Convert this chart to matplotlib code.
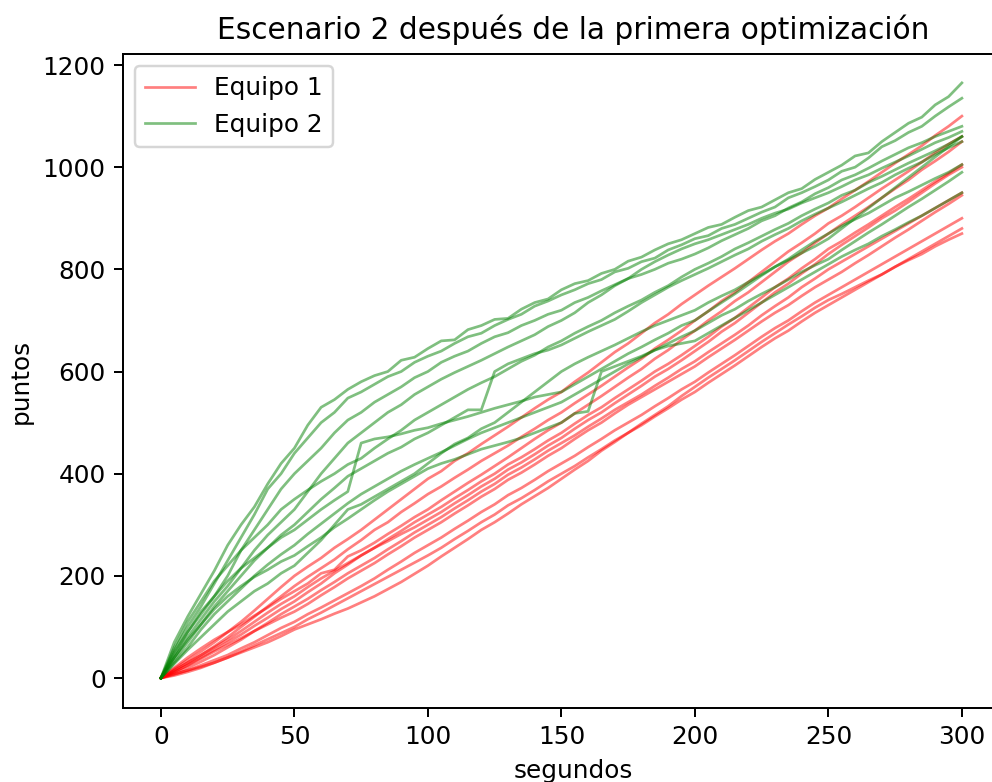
import numpy as np
import matplotlib
matplotlib.use("Agg")
import matplotlib.pyplot as plt

# sample times (seconds), every 5 s
segundos = list(range(0, 301, 5))

# Equipo 1 (red) runs
equipo1 = [
    [0, 18, 35, 52, 70, 90, 110, 132, 155, 178, 200, 218, 235, 255, 272, 290, 310, 330, 350, 370, 390, 405, 425, 440, 458, 475, 492, 510, 528, 545, 560, 580, 598, 618, 638, 655, 675, 695, 712, 732, 750, 768, 785, 802, 820, 838, 855, 870, 888, 905, 920, 938, 955, 972, 990, 1008, 1025, 1042, 1062, 1080, 1100],
    [0, 15, 30, 45, 62, 80, 100, 120, 140, 160, 180, 198, 215, 232, 252, 270, 290, 305, 325, 342, 360, 375, 392, 408, 425, 440, 455, 472, 488, 505, 520, 538, 555, 572, 590, 608, 625, 645, 662, 680, 700, 718, 738, 755, 775, 795, 815, 835, 852, 870, 890, 905, 922, 940, 958, 975, 992, 1010, 1028, 1045, 1060],
    [0, 20, 40, 58, 75, 90, 105, 122, 138, 155, 170, 185, 205, 212, 238, 250, 265, 282, 298, 315, 330, 348, 365, 382, 398, 415, 432, 450, 468, 485, 500, 518, 535, 552, 570, 588, 605, 625, 642, 662, 680, 700, 718, 738, 755, 775, 795, 815, 832, 852, 870, 888, 905, 922, 940, 958, 975, 995, 1012, 1030, 1050],
    [0, 12, 25, 40, 55, 70, 85, 102, 118, 135, 150, 168, 185, 205, 222, 240, 255, 272, 288, 305, 320, 335, 352, 368, 385, 400, 418, 432, 448, 465, 480, 498, 515, 530, 548, 565, 582, 600, 615, 632, 650, 668, 688, 705, 725, 745, 765, 782, 802, 820, 840, 855, 872, 888, 905, 922, 938, 955, 972, 988, 1005],
    [0, 15, 30, 45, 60, 75, 92, 110, 128, 145, 160, 178, 195, 210, 225, 240, 255, 268, 282, 295, 310, 325, 342, 358, 375, 390, 408, 422, 438, 455, 470, 488, 505, 520, 538, 555, 572, 590, 605, 622, 640, 658, 678, 695, 715, 735, 755, 772, 792, 810, 830, 848, 865, 882, 900, 915, 932, 950, 968, 985, 1000],
    [0, 10, 20, 32, 45, 60, 75, 92, 108, 125, 140, 155, 172, 188, 205, 220, 235, 252, 268, 285, 300, 315, 332, 348, 365, 380, 398, 412, 428, 445, 460, 475, 492, 508, 525, 540, 555, 572, 588, 605, 620, 638, 655, 672, 690, 710, 728, 745, 765, 782, 800, 815, 830, 845, 860, 875, 890, 905, 920, 935, 950],
    [0, 12, 25, 38, 52, 65, 78, 92, 105, 118, 130, 145, 162, 178, 195, 210, 225, 242, 258, 275, 290, 305, 322, 338, 355, 370, 388, 402, 418, 435, 450, 468, 485, 500, 518, 535, 550, 565, 580, 595, 610, 628, 645, 662, 680, 698, 715, 730, 748, 765, 780, 795, 812, 828, 845, 862, 878, 895, 912, 928, 945],
    [0, 8, 15, 25, 35, 45, 58, 70, 84, 98, 110, 125, 138, 152, 166, 180, 195, 212, 228, 245, 260, 275, 292, 308, 325, 340, 358, 372, 388, 405, 420, 435, 452, 468, 485, 500, 515, 532, 548, 565, 580, 598, 615, 632, 650, 668, 685, 700, 718, 735, 750, 765, 780, 795, 810, 825, 840, 855, 870, 885, 900],
    [0, 7, 15, 22, 30, 40, 52, 64, 76, 88, 100, 115, 128, 142, 156, 170, 184, 198, 212, 226, 240, 255, 272, 288, 305, 320, 338, 352, 368, 385, 400, 415, 432, 448, 465, 480, 495, 512, 528, 545, 560, 578, 595, 612, 630, 648, 665, 680, 698, 715, 730, 745, 760, 775, 790, 805, 820, 835, 850, 865, 880],
    [0, 5, 12, 20, 30, 40, 50, 60, 70, 82, 95, 105, 115, 126, 136, 148, 160, 174, 188, 204, 220, 238, 255, 272, 290, 305, 322, 340, 356, 372, 390, 408, 425, 445, 462, 480, 498, 515, 532, 552, 570, 588, 605, 622, 640, 658, 675, 692, 708, 725, 740, 752, 765, 778, 790, 805, 818, 830, 845, 858, 870],
]

# Equipo 2 (green) runs
equipo2 = [
    [0, 70, 120, 165, 210, 260, 300, 335, 380, 420, 450, 495, 530, 545, 565, 580, 592, 600, 622, 628, 645, 660, 662, 682, 690, 702, 704, 722, 735, 742, 760, 772, 778, 792, 800, 816, 824, 838, 850, 858, 870, 882, 888, 902, 915, 922, 936, 950, 958, 976, 990, 1004, 1022, 1028, 1050, 1068, 1086, 1098, 1122, 1138, 1165],
    [0, 55, 100, 140, 185, 230, 275, 320, 370, 400, 440, 470, 500, 520, 548, 560, 575, 590, 600, 618, 630, 640, 655, 668, 675, 690, 702, 712, 728, 738, 750, 760, 772, 780, 795, 802, 815, 822, 838, 848, 860, 866, 880, 888, 900, 912, 922, 940, 950, 962, 975, 992, 1000, 1018, 1040, 1052, 1068, 1080, 1100, 1118, 1135],
    [0, 45, 90, 125, 160, 200, 250, 290, 330, 370, 400, 425, 450, 480, 505, 520, 540, 555, 570, 588, 600, 618, 630, 640, 655, 668, 676, 690, 700, 712, 720, 735, 745, 758, 770, 782, 790, 800, 812, 820, 830, 842, 856, 868, 880, 895, 905, 920, 932, 948, 960, 975, 985, 998, 1012, 1025, 1038, 1048, 1060, 1070, 1080],
    [0, 40, 80, 115, 150, 180, 215, 250, 280, 305, 330, 365, 400, 430, 460, 480, 500, 520, 535, 555, 570, 585, 598, 610, 622, 635, 648, 660, 672, 688, 700, 715, 735, 750, 768, 782, 800, 815, 828, 840, 850, 858, 868, 878, 888, 900, 910, 918, 930, 940, 950, 962, 975, 985, 998, 1010, 1022, 1035, 1048, 1058, 1070],
    [0, 60, 110, 150, 190, 220, 250, 275, 300, 330, 350, 368, 385, 400, 418, 430, 450, 468, 485, 505, 520, 535, 550, 565, 578, 590, 605, 620, 632, 648, 660, 675, 688, 700, 715, 728, 740, 755, 768, 785, 800, 812, 825, 840, 852, 865, 878, 890, 905, 918, 930, 945, 955, 970, 982, 995, 1008, 1020, 1032, 1045, 1060],
    [0, 35, 70, 105, 140, 170, 200, 230, 255, 280, 300, 325, 350, 372, 395, 410, 425, 440, 452, 468, 480, 495, 510, 525, 525, 600, 615, 625, 635, 642, 652, 665, 678, 690, 702, 718, 735, 750, 765, 778, 790, 802, 815, 828, 840, 855, 868, 880, 895, 908, 920, 932, 945, 958, 970, 985, 998, 1010, 1025, 1038, 1050],
    [0, 50, 90, 130, 160, 190, 215, 235, 255, 275, 290, 310, 330, 348, 365, 460, 468, 472, 478, 485, 490, 498, 505, 512, 520, 528, 535, 542, 550, 555, 560, 575, 590, 605, 620, 635, 648, 662, 675, 690, 700, 718, 735, 752, 770, 788, 805, 820, 838, 855, 870, 885, 898, 910, 925, 940, 952, 965, 978, 990, 1005],
    [0, 30, 60, 95, 125, 150, 175, 200, 222, 242, 260, 282, 302, 322, 342, 360, 375, 390, 405, 418, 430, 442, 455, 468, 480, 490, 500, 510, 520, 530, 540, 555, 570, 585, 600, 615, 628, 642, 655, 668, 680, 695, 710, 722, 738, 752, 765, 780, 795, 808, 820, 838, 855, 872, 888, 905, 922, 938, 955, 972, 990],
    [0, 40, 75, 105, 135, 160, 180, 198, 212, 228, 240, 258, 275, 295, 312, 330, 348, 365, 380, 395, 410, 420, 428, 438, 448, 455, 462, 470, 480, 490, 500, 518, 522, 600, 610, 620, 630, 642, 650, 655, 660, 675, 690, 705, 720, 735, 750, 765, 780, 795, 810, 825, 838, 850, 865, 878, 892, 905, 920, 935, 950],
    [0, 28, 55, 80, 105, 130, 150, 170, 185, 205, 220, 245, 270, 300, 330, 340, 355, 370, 385, 400, 420, 440, 458, 470, 488, 500, 520, 540, 560, 580, 600, 615, 628, 640, 652, 665, 678, 690, 700, 710, 720, 735, 748, 760, 775, 790, 805, 818, 832, 845, 860, 880, 900, 920, 940, 960, 980, 1000, 1020, 1040, 1060],
]

fig = plt.figure(figsize=(992 / 178, 782 / 178), dpi=178)
ax = fig.add_axes([0.124, 0.0946, 0.907, 0.8363])

for i, run in enumerate(equipo1):
    ax.plot(segundos, run, color="red", alpha=0.5, linewidth=1.1,
            label="Equipo 1" if i == 0 else None)
for i, run in enumerate(equipo2):
    ax.plot(segundos, run, color="green", alpha=0.5, linewidth=1.1,
            label="Equipo 2" if i == 0 else None)

ax.set_xlim(-14.2, 322.8)
ax.set_ylim(-58.7, 1221.5)
ax.spines["right"].set_visible(False)  # cut off in the reference
ax.set_title("Escenario 2 después de la primera optimización", fontsize=12)
ax.set_xlabel("segundos")
ax.set_ylabel("puntos")
ax.set_xticks([0, 50, 100, 150, 200, 250, 300])
ax.set_yticks([0, 200, 400, 600, 800, 1000, 1200])
ax.legend(loc="upper left")

fig.savefig("out.png", dpi=178)
